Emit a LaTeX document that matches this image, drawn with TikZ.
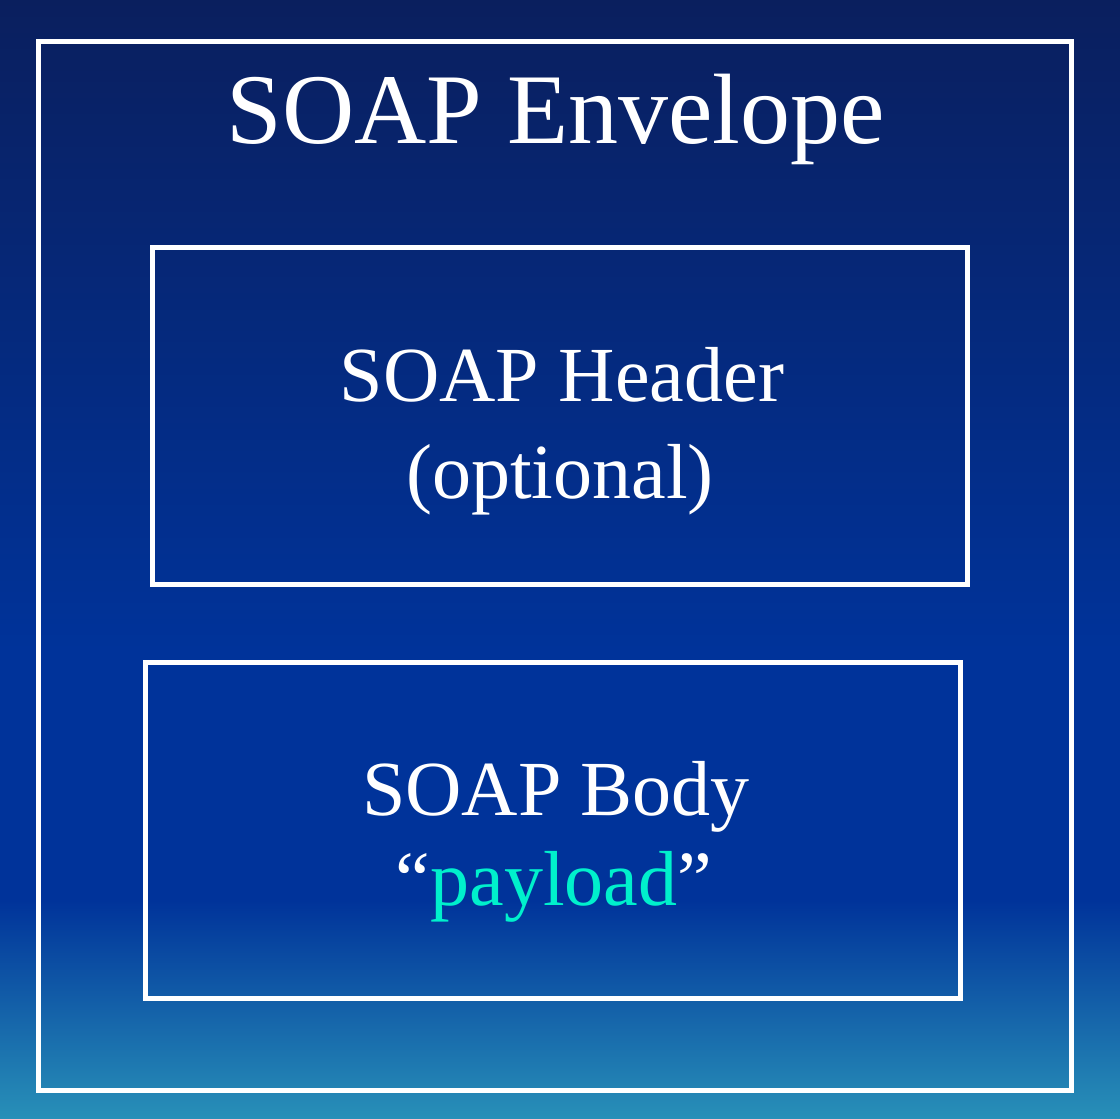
\documentclass[tikz,border=0pt]{standalone}
\usepackage{fontspec}
\setmainfont{Liberation Serif}
\definecolor{navytop}{RGB}{10,31,94}
\definecolor{soapblue}{RGB}{0,51,154}
\definecolor{tealbottom}{RGB}{40,144,184}
\definecolor{payloadcyan}{RGB}{0,240,204}
\begin{document}
\begin{tikzpicture}[x=1pt,y=-1pt,
    box/.style={draw=white,line width=5pt},
    big label/.style={text=white,anchor=base,inner sep=0pt,font=\fontsize{100}{100}\selectfont},
    main label/.style={text=white,anchor=base,inner sep=0pt,font=\fontsize{78}{78}\selectfont}]
    \useasboundingbox (0,0) rectangle (1120,1119);
    % background
    \shade[top color=navytop,bottom color=soapblue] (0,0) rectangle (1120,651);
    \fill[soapblue] (0,650) rectangle (1120,901);
    \shade[top color=soapblue,bottom color=tealbottom] (0,900) rectangle (1120,1119);

    \draw[box] (38.5,41.5) rectangle (1071.5,1090.5);
    \draw[box] (152.5,247.5) rectangle (967.5,584.5);
    \draw[box] (145.5,662.5) rectangle (960.5,998.5);

    \node[big label] at (556,143) (envelope) {SOAP Envelope};
    \node[main label] at (562,401) (header) {SOAP Header};
    \node[main label] at (560,498) (optional) {(optional)};
    \node[main label] at (556,815) (body) {SOAP Body};
    \node[main label] at (554,905) (payload) {``\textcolor{payloadcyan}{payload}''};
\end{tikzpicture}
\end{document}
